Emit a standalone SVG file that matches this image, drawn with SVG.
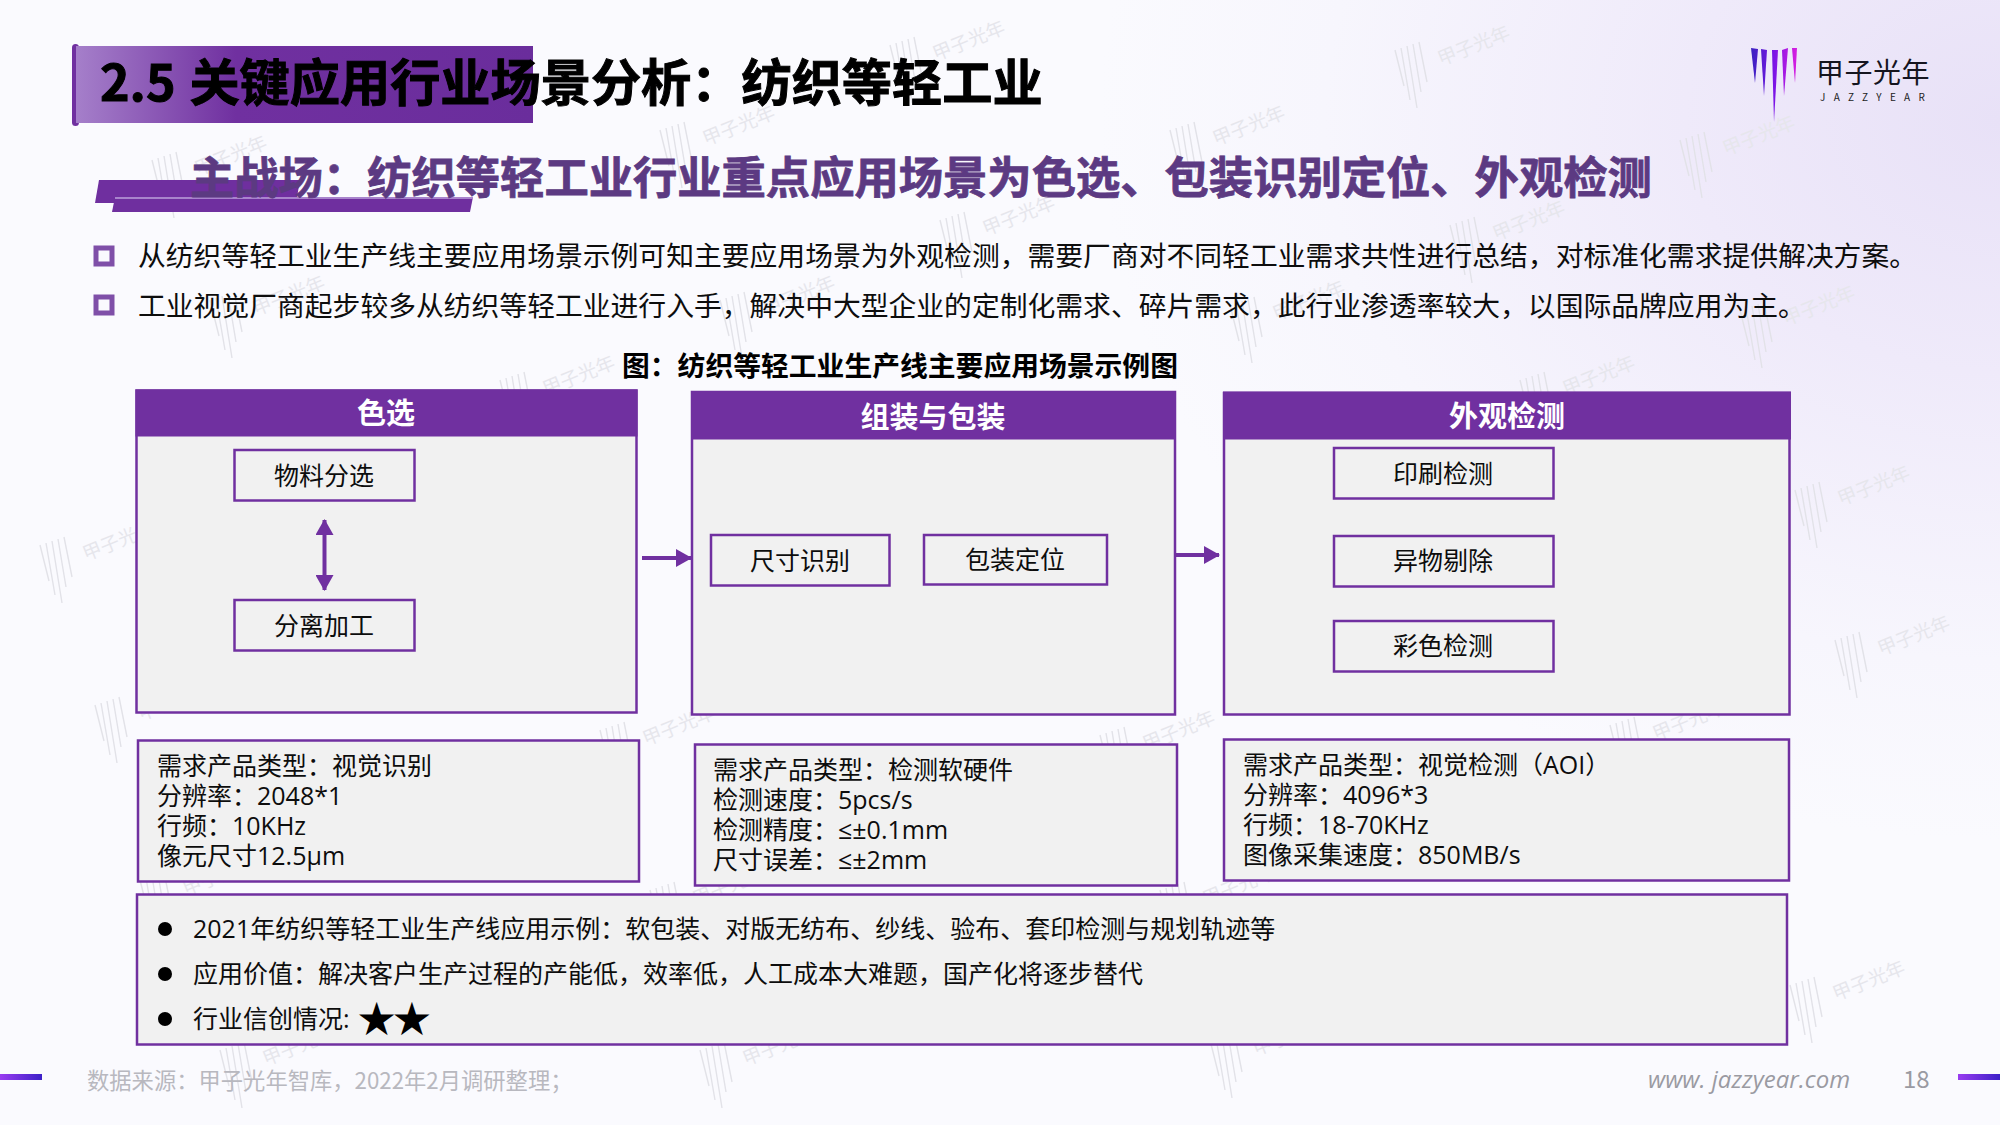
<svg xmlns="http://www.w3.org/2000/svg" xmlns:xlink="http://www.w3.org/1999/xlink" width="2000" height="1125" viewBox="0 0 2000 1125">
<style>
text{font-family:"Noto Sans CJK SC","Noto Sans",sans-serif;fill:#0d0d0d}
.body{font-size:27.8px}
.info{font-size:25px;font-family:"Open Sans","Noto Sans CJK SC",sans-serif}
.sm{font-size:25px;text-anchor:middle}
.hd{font-size:29px;font-weight:700;fill:#fff;text-anchor:middle}
.panel{fill:#f1f1f1;stroke:#7030a0;stroke-width:2.500}
.hdr{fill:#7030a0}
.box{fill:#f1f1f1;stroke:#7030a0;stroke-width:2.500}
.info-box{fill:#f1f1f1;stroke:#7030a0;stroke-width:2.500}
.bul{fill:none;stroke:#7f4fa8;stroke-width:5}
.conn{stroke:#7030a0;stroke-width:4;fill:none}
.wm line{stroke:#e2e2e8;stroke-width:1.4}
.wm text{font-size:19px;fill:#e6e6ec}
</style>
<defs>
<radialGradient id="bg" gradientUnits="userSpaceOnUse" cx="2000" cy="120" r="900" gradientTransform="translate(2000 120) scale(1 0.8) translate(-2000 -120)">
<stop offset="0" stop-color="#e8e1f7"/><stop offset="0.35" stop-color="#efeafa"/><stop offset="0.75" stop-color="#f7f6fd"/><stop offset="1" stop-color="#fafafe"/>
</radialGradient>
<linearGradient id="bar" x1="0" y1="0" x2="1" y2="0">
<stop offset="0" stop-color="#a57fca"/><stop offset="0.35" stop-color="#7030a0"/><stop offset="1" stop-color="#6a2d9c"/>
</linearGradient>
<linearGradient id="spike" gradientUnits="userSpaceOnUse" x1="1751" y1="0" x2="1797" y2="0">
<stop offset="0" stop-color="#3a22c0"/><stop offset="0.5" stop-color="#7a14e6"/><stop offset="1" stop-color="#d81ee0"/>
</linearGradient>
<linearGradient id="rule" x1="0" y1="0" x2="1" y2="0">
<stop offset="0" stop-color="#9a3cf0"/><stop offset="1" stop-color="#3c20c8"/>
</linearGradient>
<marker id="ah" markerUnits="userSpaceOnUse" markerWidth="16" markerHeight="18" refX="15" refY="9" orient="auto-start-reverse">
<path d="M0 0L16 9L0 18Z" fill="#7030a0"/>
</marker>
<g id="wmk" class="wm">
<line x1="0" y1="0" x2="9" y2="36"/><line x1="6" y1="-2" x2="15" y2="50"/><line x1="12" y1="-4" x2="22" y2="58"/><line x1="18" y1="-6" x2="26" y2="42"/><line x1="24" y1="-8" x2="32" y2="32"/>
<text transform="translate(46,16) rotate(-22)">甲子光年</text>
</g>
</defs>
<rect width="2000" height="1125" fill="url(#bg)"/>
<g id="watermarks">
<use xlink:href="#wmk" href="#wmk" x="890" y="45"/><use href="#wmk" x="1395" y="50"/><use href="#wmk" x="152" y="160"/><use href="#wmk" x="660" y="130"/>
<use href="#wmk" x="1170" y="130"/><use href="#wmk" x="1680" y="140"/><use href="#wmk" x="940" y="220"/><use href="#wmk" x="1450" y="225"/>
<use href="#wmk" x="210" y="300"/><use href="#wmk" x="720" y="300"/><use href="#wmk" x="1230" y="305"/><use href="#wmk" x="1740" y="310"/>
<use href="#wmk" x="500" y="380"/><use href="#wmk" x="1520" y="380"/><use href="#wmk" x="40" y="545"/><use href="#wmk" x="1795" y="490"/>
<use href="#wmk" x="1835" y="640"/><use href="#wmk" x="95" y="705"/><use href="#wmk" x="600" y="730"/><use href="#wmk" x="1100" y="735"/>
<use href="#wmk" x="1610" y="725"/><use href="#wmk" x="140" y="880"/><use href="#wmk" x="650" y="890"/><use href="#wmk" x="1160" y="890"/>
<use href="#wmk" x="1790" y="985"/><use href="#wmk" x="220" y="1050"/><use href="#wmk" x="700" y="1050"/><use href="#wmk" x="1210" y="1040"/>
</g>
<g id="title">
<rect x="72" y="44" width="7" height="82" rx="3.5" fill="#7030a0"/>
<rect x="76" y="46" width="457" height="77" fill="url(#bar)"/>
<text x="100" y="101" font-size="50.200" font-weight="700" word-spacing="2.500" stroke="#000" stroke-width="1" style="fill:#000">2.5 关键应用行业场景分析&#xFF1A;纺织等轻工业</text>
</g>
<g id="subtitle">
<path d="M99 180H300L296 203H95Z" fill="#6f2f9f"/>
<path d="M115 197H473L470 212H112Z" fill="#6f2f9f"/>
<path d="M115 197H473V199H115Z" fill="#a884cc"/>
<text x="190" y="194" font-size="44.300" font-weight="700" style="fill:#5c3a82" stroke="#5c3a82" stroke-width="0.8">主战场&#xFF1A;纺织等轻工业行业重点应用场景为色选、包装识别定位、外观检测</text>
</g>
<g id="bullets">
<rect class="bul" x="96" y="248" width="16" height="16"/>
<text class="body" x="138" y="266">从纺织等轻工业生产线主要应用场景示例可知主要应用场景为外观检测&#xFF0C;需要厂商对不同轻工业需求共性进行总结&#xFF0C;对标准化需求提供解决方案。</text>
<rect class="bul" x="96" y="297" width="16" height="16"/>
<text class="body" x="138" y="316">工业视觉厂商起步较多从纺织等轻工业进行入手&#xFF0C;解决中大型企业的定制化需求、碎片需求&#xFF0C;此行业渗透率较大&#xFF0C;以国际品牌应用为主。</text>
</g>
<text id="caption" x="900" y="376" font-size="27.8" font-weight="700" text-anchor="middle" style="fill:#000">图&#xFF1A;纺织等轻工业生产线主要应用场景示例图</text>
<g id="panel-sexuan">
<rect class="panel" x="136.500" y="390.500" width="500" height="322"/>
<rect class="hdr" x="135.500" y="389.500" width="502" height="47"/>
<text class="hd" x="386" y="424">色选</text>
</g>
<g id="node-wuliao"><rect class="box" x="234.500" y="450" width="180" height="50.500"/><text class="sm" x="324" y="485">物料分选</text></g>
<g id="node-fenli"><rect class="box" x="234.500" y="600" width="180" height="50.500"/><text class="sm" x="324" y="635">分离加工</text></g>
<g id="panel-zuzhuang">
<rect class="panel" x="692" y="392" width="483" height="322.500"/>
<rect class="hdr" x="691" y="391.500" width="485" height="48"/>
<text class="hd" x="933" y="428">组装与包装</text>
</g>
<g id="node-chicun"><rect class="box" x="711" y="535" width="178.500" height="50.500"/><text class="sm" x="800" y="570">尺寸识别</text></g>
<g id="node-baozhuang"><rect class="box" x="924" y="535" width="183" height="49.500"/><text class="sm" x="1015" y="569">包装定位</text></g>
<g id="panel-waiguan">
<rect class="panel" x="1224" y="393" width="565.500" height="321.500"/>
<rect class="hdr" x="1223" y="391.500" width="568" height="48"/>
<text class="hd" x="1507" y="427">外观检测</text>
</g>
<g id="node-yinshua"><rect class="box" x="1334" y="448" width="219.500" height="50.500"/><text class="sm" x="1443" y="483">印刷检测</text></g>
<g id="node-yiwu"><rect class="box" x="1334" y="536" width="219.500" height="50.500"/><text class="sm" x="1443" y="570">异物剔除</text></g>
<g id="node-caise"><rect class="box" x="1334" y="621" width="219.500" height="50.500"/><text class="sm" x="1443" y="655">彩色检测</text></g>
<g id="connectors">
<line class="conn" x1="324.500" y1="520" x2="324.500" y2="590" marker-start="url(#ah)" marker-end="url(#ah)"/>
<line class="conn" x1="642" y1="558" x2="691" y2="558" marker-end="url(#ah)"/>
<line class="conn" x1="1175" y1="555" x2="1219" y2="555" marker-end="url(#ah)"/>
</g>
<g id="info-1">
<rect class="info-box" x="138" y="740.500" width="501" height="141"/>
<text class="info" x="157" y="775">需求产品类型&#xFF1A;视觉识别</text><text class="info" x="157" y="805">分辨率&#xFF1A;2048*1</text><text class="info" x="157" y="835">行频&#xFF1A;10KHz</text><text class="info" x="157" y="865">像元尺寸12.5μm</text>
</g>
<g id="info-2">
<rect class="info-box" x="695" y="744.500" width="482" height="141"/>
<text class="info" x="713" y="779">需求产品类型&#xFF1A;检测软硬件</text><text class="info" x="713" y="809">检测速度&#xFF1A;5pcs/s</text><text class="info" x="713" y="839">检测精度&#xFF1A;≤±0.1mm</text><text class="info" x="713" y="869">尺寸误差&#xFF1A;≤±2mm</text>
</g>
<g id="info-3">
<rect class="info-box" x="1224" y="739.500" width="565" height="141"/>
<text class="info" x="1243" y="774">需求产品类型&#xFF1A;视觉检测&#xFF08;AOI&#xFF09;</text><text class="info" x="1243" y="804">分辨率&#xFF1A;4096*3</text><text class="info" x="1243" y="834">行频&#xFF1A;18-70KHz</text><text class="info" x="1243" y="864">图像采集速度&#xFF1A;850MB/s</text>
</g>
<g id="summary">
<rect class="info-box" x="137" y="894.500" width="1650" height="150"/>
<circle cx="165" cy="929" r="7" fill="#000"/><text class="info" x="193" y="938">2021年纺织等轻工业生产线应用示例&#xFF1A;软包装、对版无纺布、纱线、验布、套印检测与规划轨迹等</text>
<circle cx="165" cy="974" r="7" fill="#000"/><text class="info" x="193" y="983">应用价值&#xFF1A;解决客户生产过程的产能低&#xFF0C;效率低&#xFF0C;人工成本大难题&#xFF0C;国产化将逐步替代</text>
<circle cx="165" cy="1019" r="7" fill="#000"/><text class="info" x="193" y="1028">行业信创情况:</text>
<text x="356" y="1035" font-size="46" letter-spacing="-6" style="font-family:'DejaVu Sans',sans-serif;fill:#000">★★</text>
</g>
<g id="logo">
<path d="M1751 48L1758 49L1755 83Z" fill="url(#spike)"/><path d="M1761 49L1767 50L1764 96Z" fill="url(#spike)"/><path d="M1772 50L1778 50L1774 122Z" fill="url(#spike)"/><path d="M1782 50L1788 48L1784 96Z" fill="url(#spike)"/><path d="M1792 48L1797 48L1795 83Z" fill="url(#spike)"/>
<text x="1816" y="83" font-size="28" letter-spacing="0.5" style="fill:#15151f">甲子光年</text>
<text x="1820" y="101" font-size="10" letter-spacing="8.300" style="fill:#222">JAZZYEAR</text>
</g>
<g id="footer">
<rect x="0" y="1074" width="42" height="6" fill="url(#rule)"/>
<rect x="1958" y="1074" width="42" height="6" fill="url(#rule)"/>
<text x="87" y="1089" font-size="22.300" style="fill:#b8b8bf">数据来源&#xFF1A;甲子光年智库&#xFF0C;2022年2月调研整理&#xFF1B;</text>
<text x="1648" y="1088" font-size="24" font-style="italic" style="fill:#9a9aa2;font-family:'Open Sans',sans-serif">www. jazzyear.com</text>
<text x="1903" y="1088" font-size="24" style="fill:#9a9aa2">18</text>
</g>
</svg>
